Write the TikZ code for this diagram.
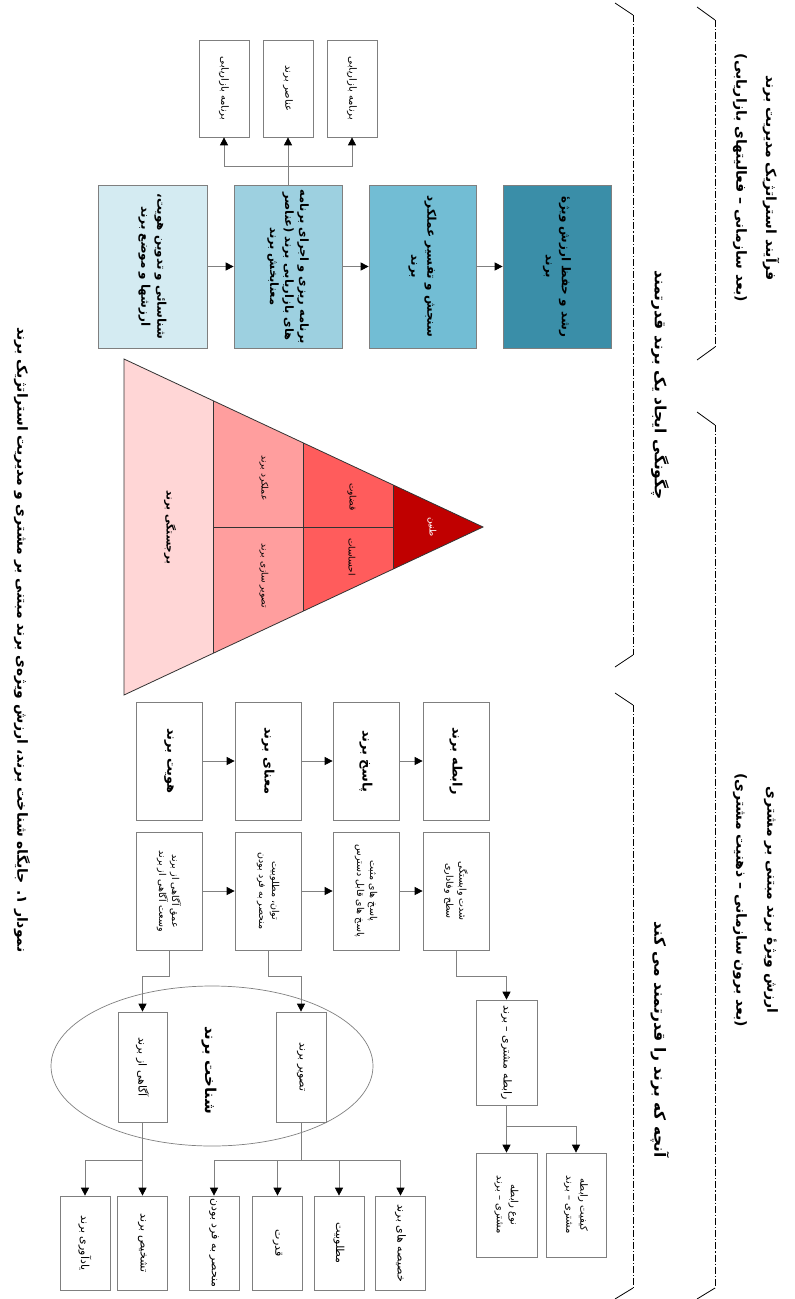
\documentclass[tikz,border=0pt]{standalone}
\usepackage{fontspec}
\usetikzlibrary{arrows.meta,calc,shapes.geometric}
\newfontfamily\farsi[Script=Arabic]{DejaVu Sans}
\TeXXeTstate=1
\newcommand{\rl}[1]{\beginR#1\endR}
\definecolor{pa}{HTML}{D4EBF2}
\definecolor{pb}{HTML}{9DD0E0}
\definecolor{pc}{HTML}{72BDD4}
\definecolor{pd}{HTML}{3A8EA8}
\definecolor{bord}{HTML}{7F7F7F}
\definecolor{lgray}{HTML}{808080}
\definecolor{tA}{HTML}{FFD6D6}
\definecolor{tB}{HTML}{FF9E9E}
\definecolor{tC}{HTML}{FF5C5C}
\definecolor{tD}{HTML}{C00000}
\begin{document}
\begin{tikzpicture}[x=1pt,y=-1pt,
  box/.style={draw=bord, line width=0.7pt, rotate=-90, align=center, inner sep=1pt},
  lbl/.style={rotate=-90, align=center, inner sep=0pt},
  ln/.style={draw=lgray, line width=0.8pt},
  arr/.style={ln, -{Triangle[length=8pt,width=8pt,color=black]}},
  brk/.style={draw=black, line width=0.8pt, dash pattern=on 7pt off 2pt on 1.2pt off 2pt},
  tickl/.style={draw=black, line width=0.8pt},
  pyr/.style={draw=black!80, line width=0.8pt},
  ft/.style={font=\farsi\bfseries\fontsize{14}{18}\selectfont},
  fh/.style={font=\farsi\bfseries\fontsize{15.5}{19}\selectfont},
  fp/.style={font=\farsi\bfseries\fontsize{12}{16}\selectfont},
  fpb/.style={font=\farsi\bfseries\fontsize{11.5}{15}\selectfont},
  fs/.style={font=\farsi\fontsize{10}{13}\selectfont},
  fm/.style={font=\farsi\bfseries\fontsize{13}{16}\selectfont},
  fr/.style={font=\farsi\fontsize{9.5}{13}\selectfont},
  fe/.style={font=\farsi\fontsize{11}{14}\selectfont},
  fq/.style={font=\farsi\fontsize{10}{14}\selectfont},
  fk/.style={font=\farsi\bfseries\fontsize{15}{18}\selectfont},
  fy/.style={font=\farsi\fontsize{9}{12}\selectfont},
  fyb/.style={font=\farsi\bfseries\fontsize{10.5}{13}\selectfont},
]
\useasboundingbox (0,0) rectangle (795,1299);
\fill[white] (0,0) rectangle (795,1299);

% caption and titles
\node[lbl, ft] (cap) at (22,640) {\rl{نمودار ۱. جایگاه شناخت برند، ارزش ویژه‌ی برند مبتنی بر مشتری و مدیریت استراتژیک برند}};
\node[lbl, ft] (t1) at (771,178) {\rl{فرآیند استراتژیک مدیریت برند}};
\node[lbl, ft] (t1s) at (740,178) {\rl{(بعد سازمانی – فعالیتهای بازاریابی)}};
\node[lbl, ft] (t2) at (771,900) {\rl{ارزش ویژهٔ برند مبتنی بر مشتری}};
\node[lbl, ft] (t2s) at (740,900) {\rl{(بعد برون سازمانی – ذهنیت مشتری)}};
\node[lbl, fh] (t3) at (660,385) {\rl{چگونگی ایجاد یک برند قدرتمند}};
\node[lbl, fh] (t4) at (660,1040) {\rl{آنچه که برند را قدرتمند می کند}};

% brackets
\draw[brk] (715,20) -- (715,347);
\draw[tickl] (715,20) -- (697,7);
\draw[tickl] (715,347) -- (697,360);
\draw[brk] (715,425) -- (715,1288);
\draw[tickl] (715,425) -- (697,412);
\draw[tickl] (715,1288) -- (697,1299);
\draw[brk] (633,15) -- (633,655);
\draw[tickl] (633,15) -- (615,3);
\draw[tickl] (633,655) -- (615,667);
\draw[brk] (633,705) -- (633,1288);
\draw[tickl] (633,705) -- (615,693);
\draw[tickl] (633,1288) -- (615,1299);

% process boxes
\node[box, fill=pa, minimum width=163, minimum height=109, fp] (pA) at (152.5,266.5) {\rl{شناسائی و تدوین هویت،}\\\rl{ارزشها و موضع برند}};
\node[box, fill=pb, minimum width=163, minimum height=108, fpb, inner sep=0pt] (pB) at (288,266.5) {\rl{برنامه ریزی و اجرای برنامه}\\\rl{های بازاریابی برند (عناصر}\\\rl{معنابخش برند}};
\node[box, fill=pc, minimum width=163, minimum height=107, fp] (pC) at (422.5,266.5) {\rl{سنجش و تفسیر عملکرد}\\\rl{برند}};
\node[box, fill=pd, minimum width=163, minimum height=108, fp] (pD) at (557,266.5) {\rl{رشد و حفظ ارزش ویژهٔ}\\\rl{برند}};
\draw[arr] (pA.north) -- (pB.south);
\draw[arr] (pB.north) -- (pC.south);
\draw[arr] (pC.north) -- (pD.south);

\node[box, minimum width=97, minimum height=50, fs] (s1) at (224,88.5) {\rl{برنامه بازاریابی}};
\node[box, minimum width=97, minimum height=50, fs] (s2) at (288,88.5) {\rl{عناصر برند}};
\node[box, minimum width=97, minimum height=50, fs] (s3) at (352,88.5) {\rl{برنامه بازاریابی}};
\coordinate (jt) at (288,166);
\draw[ln] (pB.west) -- (jt);
\draw[arr] (jt) -| (s1.east);
\draw[arr] (jt) -- (s2.east);
\draw[arr] (jt) -| (s3.east);

% pyramid
\coordinate (pt) at (124,359);
\coordinate (pbm) at (124,695);
\coordinate (pm) at (124,527);
\coordinate (ap) at (483,527);
\fill[tA] (pt) -- ($(pt)!.25!(ap)$) -- ($(pbm)!.25!(ap)$) -- (pbm) -- cycle;
\fill[tB] ($(pt)!.25!(ap)$) -- ($(pt)!.5!(ap)$) -- ($(pbm)!.5!(ap)$) -- ($(pbm)!.25!(ap)$) -- cycle;
\fill[tC] ($(pt)!.5!(ap)$) -- ($(pt)!.75!(ap)$) -- ($(pbm)!.75!(ap)$) -- ($(pbm)!.5!(ap)$) -- cycle;
\fill[tD] ($(pt)!.75!(ap)$) -- (ap) -- ($(pbm)!.75!(ap)$) -- cycle;
\draw[pyr] (pt) -- (ap) -- (pbm) -- cycle;
\draw[pyr] ($(pt)!.25!(ap)$) -- ($(pbm)!.25!(ap)$);
\draw[pyr] ($(pt)!.5!(ap)$) -- ($(pbm)!.5!(ap)$);
\draw[pyr] ($(pt)!.75!(ap)$) -- ($(pbm)!.75!(ap)$);
\draw[pyr] ($(pm)!.25!(ap)$) -- ($(pm)!.75!(ap)$);
\node[lbl, fyb] (y1) at (170,527) {\rl{برجستگی برند}};
\node[lbl, fy] (y2a) at (264,478) {\rl{عملکرد برند}};
\node[lbl, fy] (y2b) at (264,576) {\rl{تصویر سازی برند}};
\node[lbl, fy] (y3a) at (352,497) {\rl{قضاوت}};
\node[lbl, fy] (y3b) at (352,557) {\rl{احساسات}};
\node[lbl, fy, text=white] (y4) at (432,527) {\rl{طنین}};

% middle rows
\node[box, minimum width=118, minimum height=66, fm] (m1) at (169,761) {\rl{هویت برند}};
\node[box, minimum width=118, minimum height=66, fm] (m2) at (268,761) {\rl{معنای برند}};
\node[box, minimum width=118, minimum height=66, fm] (m3) at (366,761) {\rl{پاسخ برند}};
\node[box, minimum width=118, minimum height=66, fm] (m4) at (456,761) {\rl{رابطه برند}};
\draw[arr] (m1.north) -- (m2.south);
\draw[arr] (m2.north) -- (m3.south);
\draw[arr] (m3.north) -- (m4.south);

\node[box, minimum width=118, minimum height=66, fr] (n1) at (169,891) {\rl{عمق آگاهی از برند}\\\rl{وسعت آگاهی از برند}};
\node[box, minimum width=118, minimum height=66, fr] (n2) at (268,891) {\rl{توان، مطلوبیت}\\\rl{منحصر به فرد بودن}};
\node[box, minimum width=118, minimum height=66, fr] (n3) at (366,891) {\rl{پاسخ های مثبت}\\\rl{پاسخ های قابل دسترس}};
\node[box, minimum width=118, minimum height=66, fr] (n4) at (456,891) {\rl{شدت وابستگی}\\\rl{سطح وفاداری}};
\draw[arr] (n1.north) -- (n2.south);
\draw[arr] (n2.north) -- (n3.south);
\draw[arr] (n3.north) -- (n4.south);

% brand knowledge ellipse
\node[draw=lgray, line width=0.7pt, ellipse, minimum width=322, minimum height=160] (el) at (212,1066) {};
\node[box, fill=white, minimum width=110, minimum height=49, fe] (e1) at (142.5,1067) {\rl{آگاهی از برند}};
\node[box, fill=white, minimum width=110, minimum height=50, fe] (e2) at (301,1067) {\rl{تصویر برند}};
\node[lbl, fk] (elt) at (209,1070) {\rl{شناخت برند}};
\node[box, fill=white, minimum width=105, minimum height=61, fe] (rc) at (506.5,1052.5) {\rl{رابطه مشتری – برند}};

\draw[arr] (n1.east) -- ++(0,26) -| (e1.west);
\draw[arr] (n2.east) -- ++(0,26) -| (e2.west);
\draw[arr] (n4.east) -- ++(0,26) -| (rc.west);

% bottom boxes
\node[box, minimum width=94, minimum height=50, fe] (b1) at (85,1243) {\rl{یادآوری برند}};
\node[box, minimum width=94, minimum height=50, fe] (b2) at (142.5,1243) {\rl{تشخیص برند}};
\node[box, minimum width=94, minimum height=50, fe] (b3) at (214,1243) {\rl{منحصر به فرد بودن}};
\node[box, minimum width=94, minimum height=50, fe] (b4) at (277.5,1243) {\rl{قدرت}};
\node[box, minimum width=94, minimum height=50, fe] (b5) at (339,1243) {\rl{مطلوبیت}};
\node[box, minimum width=94, minimum height=50, fe] (b6) at (400.5,1243) {\rl{خصیصه های برند}};
\coordinate (j1) at (142.5,1160);
\coordinate (j2) at (301,1160);
\draw[ln] (e1.east) -- (j1);
\draw[arr] (j1) -| (b1.west);
\draw[arr] (j1) -- (b2.west);
\draw[ln] (e2.east) -- (j2);
\draw[arr] (j2) -| (b3.west);
\draw[arr] (j2) -| (b4.west);
\draw[arr] (j2) -| (b5.west);
\draw[arr] (j2) -| (b6.west);

\node[box, minimum width=104, minimum height=61, fq] (q1) at (506.5,1205) {\rl{نوع رابطه}\\\rl{مشتری – برند}};
\node[box, minimum width=104, minimum height=60, fq] (q2) at (576,1205) {\rl{کیفیت رابطه}\\\rl{مشتری – برند}};
\coordinate (j3) at (506.5,1126);
\draw[ln] (rc.east) -- (j3);
\draw[arr] (j3) -- (q1.west);
\draw[arr] (j3) -| (q2.west);
\end{tikzpicture}
\end{document}
